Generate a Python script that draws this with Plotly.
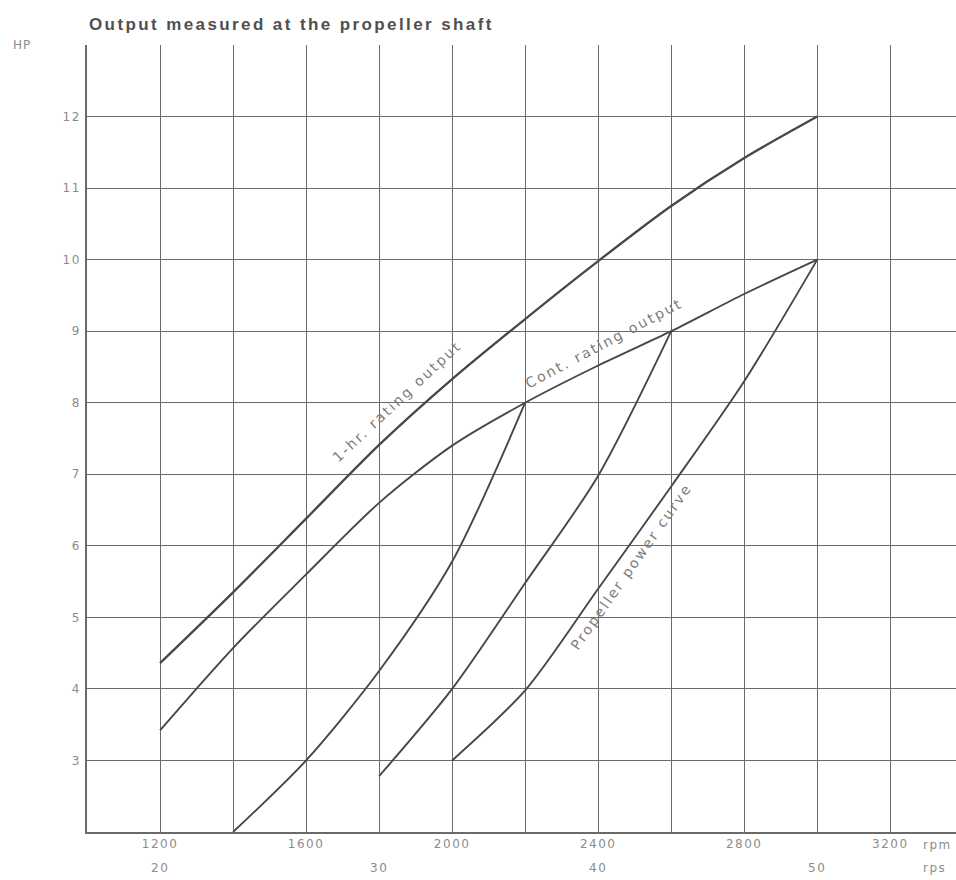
import plotly.graph_objects as go

# ---- data ----
rpm_1hr = [1200, 1400, 1600, 1800, 2000, 2200, 2400, 2600, 2800, 3000]
hp_1hr = [4.36, 5.35, 6.38, 7.41, 8.33, 9.17, 9.98, 10.75, 11.42, 12.0]

rpm_cont = [1200, 1400, 1600, 1800, 2000, 2200, 2400, 2600, 2800, 3000]
hp_cont = [3.42, 4.57, 5.6, 6.6, 7.4, 8.0, 8.52, 9.0, 9.52, 10.0]

rpm_prop_a = [1400, 1600, 1800, 2000, 2200]
hp_prop_a = [2.0, 3.0, 4.25, 5.78, 8.0]

rpm_prop_b = [1800, 2000, 2200, 2400, 2600]
hp_prop_b = [2.78, 4.0, 5.48, 6.98, 9.0]

rpm_prop_c = [2000, 2200, 2400, 2600, 2800, 3000]
hp_prop_c = [3.0, 3.98, 5.4, 6.83, 8.3, 10.0]

x_grid = [1000, 1200, 1400, 1600, 1800, 2000, 2200, 2400, 2600, 2800, 3000, 3200]
x_labels = ["", "1200", "", "1600", "", "2000", "", "2400", "", "2800", "", "3200"]
rps_pos = [1200, 1800, 2400, 3000]
rps_labels = ["20", "30", "40", "50"]
y_grid = [2, 3, 4, 5, 6, 7, 8, 9, 10, 11, 12, 13]
y_labels = ["", "3", "4", "5", "6", "7", "8", "9", "10", "11", "12", ""]

curve_color = "#474747"
grid_color = "#6a6a6a"
label_color = "#8c8c8c"
FONT = "DejaVu Sans"


def spaced(t, s):
    return f'<span style="letter-spacing:{s}px">{t}</span>' if t else t


fig = go.Figure()
for xs, ys, w in [(rpm_1hr, hp_1hr, 2.3), (rpm_cont, hp_cont, 1.9),
                  (rpm_prop_a, hp_prop_a, 1.9), (rpm_prop_b, hp_prop_b, 1.9),
                  (rpm_prop_c, hp_prop_c, 1.9)]:
    fig.add_trace(go.Scatter(x=xs, y=ys, mode="lines",
                             line=dict(color=curve_color, width=w, shape="spline", smoothing=0.8),
                             showlegend=False, hoverinfo="skip"))

lab_font = dict(family=FONT, size=14, color="#7c7c7c")
ann = []
# curve labels
ann.append(dict(x=1850, y=8.02, xref="x", yref="y", text=spaced("1-hr. rating output", 2.2),
                textangle=-43, showarrow=False, font=lab_font))
ann.append(dict(x=2416, y=8.84, xref="x", yref="y", text=spaced("Cont. rating output", 2.2),
                textangle=-28, showarrow=False, font=lab_font))
ann.append(dict(x=2490, y=5.70, xref="x", yref="y", text=spaced("Propeller power curve", 2.2),
                textangle=-55, showarrow=False, font=lab_font))
# rps row
for xv, t in zip(rps_pos, rps_labels):
    ann.append(dict(x=xv, y=0, xref="x", yref="paper", yanchor="middle", yshift=-36,
                    text=spaced(t, 1.5), showarrow=False,
                    font=dict(family=FONT, size=12, color=label_color)))
# unit labels
ann.append(dict(x=0.9597, y=0, xref="paper", yref="paper", xanchor="left", yanchor="middle",
                yshift=-13, text=spaced("rpm", 1.5), showarrow=False,
                font=dict(family=FONT, size=12, color=label_color)))
ann.append(dict(x=0.9597, y=0, xref="paper", yref="paper", xanchor="left", yanchor="middle",
                yshift=-36, text=spaced("rps", 1.5), showarrow=False,
                font=dict(family=FONT, size=12, color=label_color)))
ann.append(dict(x=-0.075, y=1.0, xref="paper", yref="paper", xanchor="center", yanchor="middle",
                text=spaced("HP", 1), showarrow=False,
                font=dict(family=FONT, size=12, color=label_color)))
# title
ann.append(dict(x=0, y=1.026, xref="paper", yref="paper", xanchor="left", yanchor="middle",
                text="<b>" + spaced("Output measured at the propeller shaft", 2.4) + "</b>",
                showarrow=False, font=dict(family="Liberation Sans", size=17, color="#505050")))

fig.update_layout(
    width=956, height=880,
    margin=dict(l=87, r=0, t=45, b=48),
    paper_bgcolor="white", plot_bgcolor="white",
    annotations=ann,
    xaxis=dict(range=[1000, 3380], tickmode="array", tickvals=x_grid,
               ticktext=[spaced(t, 1.5) for t in x_labels],
               showgrid=True, gridcolor=grid_color, gridwidth=1.4, zeroline=False,
               showline=True, linecolor=grid_color, linewidth=1.6, ticks="",
               tickfont=dict(family=FONT, size=12, color=label_color)),
    yaxis=dict(range=[2, 13], tickmode="array", tickvals=y_grid,
               ticktext=[spaced(t, 1.5) for t in y_labels],
               showgrid=True, gridcolor=grid_color, gridwidth=1.4, zeroline=False,
               showline=True, linecolor=grid_color, linewidth=1.6, ticks="",
               ticklabelstandoff=2,
               tickfont=dict(family=FONT, size=12, color=label_color)),
)

fig.write_html("out.html", config={"displayModeBar": False},
               post_script="document.body.style.margin='0px';")
